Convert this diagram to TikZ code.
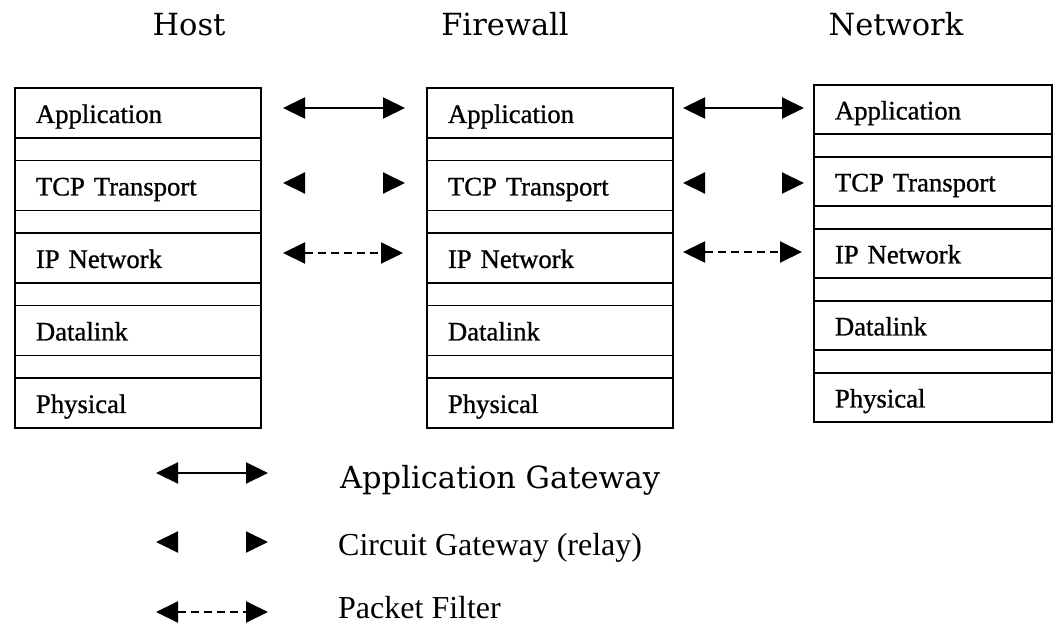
\documentclass[tikz,border=0pt]{standalone}
\usepackage{fontspec}
\setmainfont{Liberation Serif}
\newfontfamily\titlefont{DejaVu Serif}
\newfontfamily\boxfont[FakeBold=0.9]{Liberation Serif}
\usetikzlibrary{arrows.meta}
\begin{document}
\begin{tikzpicture}[x=1pt,y=-1pt,
  layerbox/.style={draw, line width=1.9pt, rectangle, anchor=north west, inner ysep=0pt, inner xsep=21pt,
    text height=20pt, text depth=0pt, align=left, font=\boxfont\fontsize{26.7}{30}\selectfont},
  gapbox/.style={draw, line width=1.9pt, rectangle, anchor=north west, inner sep=0pt},
  title/.style={anchor=base, inner sep=0pt, font=\titlefont\fontsize{30.5}{34}\selectfont},
  legendA/.style={anchor=base west, inner sep=0pt, font=\titlefont\fontsize{30.5}{34}\selectfont},
  legendT/.style={anchor=base west, inner sep=0pt, font=\fontsize{32}{36}\selectfont},
  tipshape/.tip={Triangle[length=22pt,width=21pt]},
  appgw/.style={line width=2pt, tipshape-tipshape},
  pktflt/.style={line width=2pt, tipshape-tipshape, dash pattern=on 8pt off 5pt},
  circleft/.style={line width=2pt, tipshape-},
  circright/.style={line width=2pt, -tipshape}
]
\useasboundingbox (0,0) rectangle (1053,635);
\fill[white] (0,0) rectangle (1053,635);

% titles
\node[title] (thost) at (189,35) {Host};
\node[title] (tfw) at (505,35) {Firewall};
\node[title] (tnet) at (896,35) {Network};

% stacks
\foreach \nm/\txt [count=\i from 0] in {app/Application, tcp/TCP Transport, ip/IP Network, dl/Datalink, ph/Physical}{
  \node[layerbox, text width=204pt, minimum height=50pt] (h\nm) at (14,87+72.5*\i) {\txt};
  \node[layerbox, text width=204pt, minimum height=50pt] (f\nm) at (426,87+72.5*\i) {\txt};
  \node[layerbox, text width=196pt, minimum height=49pt] (n\nm) at (813,84+72*\i) {\txt};
}
\foreach \nm [count=\i from 0] in {g1,g2,g3,g4}{
  \node[gapbox, minimum width=246pt, minimum height=22.5pt] (h\nm) at (14,137+72.5*\i) {};
  \node[gapbox, minimum width=246pt, minimum height=22.5pt] (f\nm) at (426,137+72.5*\i) {};
  \node[gapbox, minimum width=238pt, minimum height=23pt] (n\nm) at (813,133+72*\i) {};
}

% connector end points
\coordinate (a1l) at (283,108); \coordinate (a1r) at (405,108);
\coordinate (c1l) at (283,183); \coordinate (c1la) at (300,183);
\coordinate (c1rb) at (388,183); \coordinate (c1r) at (405,183);
\coordinate (p1l) at (283,253); \coordinate (p1r) at (403,253);

\coordinate (a2l) at (683,108); \coordinate (a2r) at (804,108);
\coordinate (c2l) at (683,183); \coordinate (c2la) at (700,183);
\coordinate (c2rb) at (787,183); \coordinate (c2r) at (804,183);
\coordinate (p2l) at (683,252); \coordinate (p2r) at (802,252);

\draw[appgw] (a1l) -- (a1r);
\draw[circleft] (c1l) -- (c1la);
\draw[circright] (c1rb) -- (c1r);
\draw[pktflt] (p1l) -- (p1r);

\draw[appgw] (a2l) -- (a2r);
\draw[circleft] (c2l) -- (c2la);
\draw[circright] (c2rb) -- (c2r);
\draw[pktflt] (p2l) -- (p2r);

% legend
\coordinate (la1) at (156,473); \coordinate (la2) at (268,473);
\coordinate (lc1) at (156,542); \coordinate (lc1a) at (173,542);
\coordinate (lc2b) at (251,542); \coordinate (lc2) at (268,542);
\coordinate (lp1) at (156,612); \coordinate (lp2) at (268,612);
\draw[appgw] (la1) -- (la2);
\draw[circleft] (lc1) -- (lc1a);
\draw[circright] (lc2b) -- (lc2);
\draw[pktflt] (lp1) -- (lp2);

\node[legendA] (lta) at (340,488) {Application Gateway};
\node[legendT] (ltc) at (338,555) {Circuit Gateway (relay)};
\node[legendT] (ltp) at (338,618) {Packet Filter};
\end{tikzpicture}
\end{document}
